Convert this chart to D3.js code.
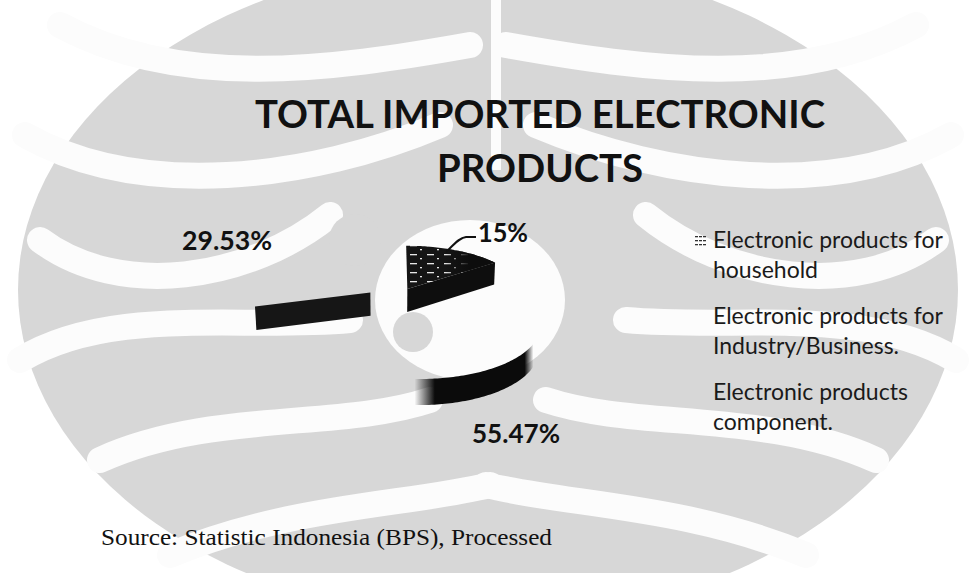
<!DOCTYPE html>
<html><head><meta charset="utf-8">
<script src="https://cdn.jsdelivr.net/npm/d3@7"></script>
<style>body{margin:0;background:#fff;overflow:hidden}</style>
</head><body>
<svg id="c" width="976" height="573"></svg>
<script>
// ---------- DATA ----------
const categories = ["Electronic products for household", "Electronic products for Industry/Business.", "Electronic products component."];
const legendLines = [["Electronic products for", "household"], ["Electronic products for", "Industry/Business."], ["Electronic products", "component."]];
const values = [15, 55.47, 29.53];
const valueLabels = ["15%", "55.47%", "29.53%"];
const titleLines = ["TOTAL IMPORTED ELECTRONIC", "PRODUCTS"];
const sourceText = "Source: Statistic Indonesia (BPS), Processed";

// ---------- SETUP ----------
const W = 976, H = 573;
const svg = d3.select("#c");
const defs = svg.append("defs");

// watermark (faint university emblem in background of the scan)
const wm = svg.append("g");
wm.append("ellipse").attr("cx", 488).attr("cy", 290).attr("rx", 470).attr("ry", 330).attr("fill", "#d7d7d7");
const swooshes = [
  "M 60,25 C 180,90 330,70 470,45",
  "M 25,135 C 140,200 310,180 440,125",
  "M 40,240 C 120,300 250,280 330,215",
  "M 20,360 C 110,305 240,330 350,320",
  "M 100,460 C 210,410 340,430 430,400",
  "M 170,555 C 290,505 410,505 490,485"
];
swooshes.forEach(p => {
  [null, "translate(976,0) scale(-1,1)"].forEach(t => {
    wm.append("path").attr("d", p).attr("transform", t)
      .attr("fill", "none").attr("stroke", "#fcfcfc").attr("stroke-width", 26).attr("stroke-linecap", "round");
  });
});
wm.append("path").attr("d", "M 496,0 L 496,170").attr("stroke", "#fcfcfc").attr("stroke-width", 10);
wm.append("ellipse").attr("cx", 470).attr("cy", 300).attr("rx", 95).attr("ry", 80).attr("fill", "#fcfcfc");
wm.append("circle").attr("cx", 413).attr("cy", 332).attr("r", 20).attr("fill", "#d7d7d7");
wm.append("circle").attr("cx", 355).attr("cy", 240).attr("r", 26).attr("fill", "#d7d7d7");

// ---------- PIE (3D exploded, perspective) ----------
const pie = d3.pie().sort(null).value(d => d);
const arcs = pie(values);
const R = 118, TH = 26;
const explode = [30, 50, 30];
const cam = {cx: 394, cy: 300, sinE: 0.42, F: 1100};
cam.cosE = Math.sqrt(1 - cam.sinE * cam.sinE);
function proj(X, Y, Z) {
  const yp = Y * cam.cosE + Z * cam.sinE;
  const d = Z * cam.cosE - Y * cam.sinE;
  const s = cam.F / (cam.F + d);
  return [cam.cx + X * s, cam.cy - yp * s];
}
function mid(i) { return (arcs[i].startAngle + arcs[i].endAngle) / 2; }
function pt(i, a, r, Y) {
  const m = mid(i);
  const ox = explode[i] * Math.sin(m), oz = explode[i] * Math.cos(m);
  return proj(ox + r * Math.sin(a), Y, oz + r * Math.cos(a));
}
function arcPts(i, a0, a1, Y) {
  const n = Math.max(2, Math.ceil(Math.abs(a1 - a0) / 0.02));
  return d3.range(n + 1).map(k => pt(i, a0 + (a1 - a0) * k / n, R, Y));
}
const line = d3.line();
const topPath = i => line([pt(i, 0, 0, 0), ...arcPts(i, arcs[i].startAngle, arcs[i].endAngle, 0)]) + "Z";
const radialPath = (i, a) => line([pt(i, a, 0, 0), pt(i, a, R, 0), pt(i, a, R, -TH), pt(i, a, 0, -TH)]) + "Z";
const wallPath = (i, a0, a1) => line([...arcPts(i, a0, a1, 0), ...arcPts(i, a1, a0, -TH)]) + "Z";

// textures of the scanned slices
const grain = defs.append("pattern").attr("id", "grain").attr("patternUnits", "userSpaceOnUse")
  .attr("width", 17).attr("height", 9);
grain.append("rect").attr("width", 17).attr("height", 9).attr("fill", "#151515");
grain.append("rect").attr("x", 2).attr("y", 2).attr("width", 7).attr("height", 1.3).attr("fill", "#e8e8e8");
grain.append("rect").attr("x", 12).attr("y", 6).attr("width", 2).attr("height", 1.3).attr("fill", "#e8e8e8");
const fadeTop = defs.append("linearGradient").attr("id", "fadeTop").attr("gradientUnits", "userSpaceOnUse")
  .attr("x1", 445).attr("x2", 470).attr("y1", 0).attr("y2", 0);
fadeTop.append("stop").attr("offset", 0).attr("stop-color", "#0d0d0d").attr("stop-opacity", 0);
fadeTop.append("stop").attr("offset", 1).attr("stop-color", "#0d0d0d").attr("stop-opacity", 1);
const cres = defs.append("linearGradient").attr("id", "cres").attr("gradientUnits", "userSpaceOnUse")
  .attr("x1", 400).attr("x2", 545).attr("y1", 0).attr("y2", 0);
[[0, 0], [0.1, 0], [0.24, 1], [0.86, 1], [0.92, 0], [1, 0]].forEach(([o, op]) =>
  cres.append("stop").attr("offset", o).attr("stop-color", "#0b0b0b").attr("stop-opacity", op));

const sliceStyle = [
  {top: ["url(#grain)", "url(#fadeTop)"], startFace: "none", endFace: "#0e0e0e", wall: "none"},
  {top: ["none"], startFace: "none", endFace: "none", wall: "url(#cres)"},
  {top: ["none"], startFace: "#161616", endFace: "none", wall: "none"}
];

const gPie = svg.append("g");
// painter's order: farthest slice first
const order = d3.range(values.length).sort((a, b) => Math.cos(mid(b)) - Math.cos(mid(a)));
order.forEach(i => {
  const s = arcs[i].startAngle, e = arcs[i].endAngle, st = sliceStyle[i];
  const g = gPie.append("g");
  const w0 = Math.max(s, Math.PI / 2), w1 = Math.min(e, 3 * Math.PI / 2);
  if (w1 > w0) g.append("path").attr("d", wallPath(i, w0, w1)).attr("fill", st.wall);
  if (Math.sin(s) < -1e-6) g.append("path").attr("d", radialPath(i, s)).attr("fill", st.startFace);
  if (Math.sin(e) > 1e-6) g.append("path").attr("d", radialPath(i, e)).attr("fill", st.endFace);
  st.top.forEach(f => g.append("path").attr("d", topPath(i)).attr("fill", f));
});

// ---------- LABELS ----------
const labelPos = [[478, 242], [472, 443], [182, 250]];
const labelW = [50, 88, 90];
svg.append("g").selectAll("text").data(valueLabels).join("text")
  .attr("x", (d, i) => labelPos[i][0]).attr("y", (d, i) => labelPos[i][1])
  .attr("textLength", (d, i) => labelW[i]).attr("lengthAdjust", "spacingAndGlyphs")
  .attr("font-family", "Lato, 'Open Sans', sans-serif").attr("font-weight", 700)
  .attr("font-size", 26).attr("fill", "#111").text(d => d);
svg.append("path").attr("d", "M 476,237 L 466,237 C 458,238 453,246 446,252")
  .attr("fill", "none").attr("stroke", "#111").attr("stroke-width", 2);

// ---------- TITLE ----------
const titleY = [128, 182], titleW = [570, 206];
svg.append("g").selectAll("text").data(titleLines).join("text")
  .attr("x", 540).attr("y", (d, i) => titleY[i]).attr("text-anchor", "middle")
  .attr("textLength", (d, i) => titleW[i]).attr("lengthAdjust", "spacingAndGlyphs")
  .attr("font-family", "Lato, 'Open Sans', sans-serif").attr("font-weight", 700)
  .attr("font-size", 39).attr("fill", "#111").text(d => d);

// ---------- LEGEND ----------
const legG = svg.append("g").attr("transform", "translate(695,0)");
const legTop = [248, 324, 400];
const legPat = defs.append("pattern").attr("id", "legPat").attr("patternUnits", "userSpaceOnUse")
  .attr("width", 4).attr("height", 4);
legPat.append("rect").attr("width", 4).attr("height", 4).attr("fill", "#fff");
legPat.append("rect").attr("width", 3).attr("height", 1.3).attr("fill", "#333");
categories.forEach((c, i) => {
  legG.append("rect").attr("x", 0).attr("y", legTop[i] - 12).attr("width", 11).attr("height", 10)
    .attr("fill", i === 0 ? "url(#legPat)" : "none");
  legendLines[i].forEach((ln, j) => {
    legG.append("text").attr("x", 18).attr("y", legTop[i] + j * 30)
      .attr("font-family", "Lato, 'Open Sans', sans-serif").attr("font-size", 23)
      .attr("fill", "#1a1a1a").text(ln);
  });
});

// ---------- SOURCE ----------
svg.append("text").attr("x", 101).attr("y", 545)
  .attr("textLength", 451).attr("lengthAdjust", "spacingAndGlyphs")
  .attr("font-family", "'Liberation Serif', 'Times New Roman', serif").attr("font-size", 23)
  .attr("fill", "#111").text(sourceText);
</script>
</body></html>
